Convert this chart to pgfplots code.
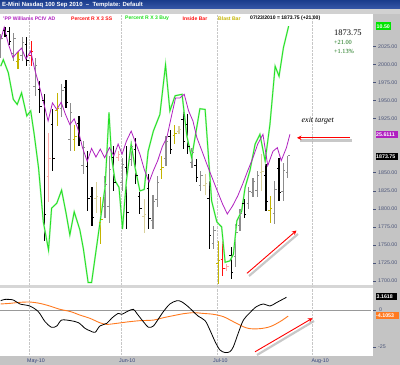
\documentclass[border=0pt]{standalone}
\usepackage{pgfplots}
\pgfplotsset{compat=1.18}
\usepackage{pgfplotstable}
\usepackage{fontspec}
\setmainfont{Liberation Sans}
\newfontfamily\serifface{Liberation Serif}
\usetikzlibrary{arrows.meta}
\definecolor{barblack}{HTML}{000000}
\definecolor{bargray}{HTML}{8C8C8C}
\definecolor{barolive}{HTML}{C4B400}
\definecolor{barpale}{HTML}{D8D09A}
\definecolor{barred}{HTML}{FF1010}
\definecolor{barpink}{HTML}{FFA8A8}
\definecolor{magline}{HTML}{B020C0}
\definecolor{grnline}{HTML}{22E022}
\definecolor{orgline}{HTML}{FF7A20}
\definecolor{titleblue}{HTML}{1A3C8C}
\definecolor{titleblue2}{HTML}{3858A8}
\definecolor{stripgray}{HTML}{C4C4C4}
\definecolor{labelcol}{HTML}{4A5478}
\definecolor{dategray}{HTML}{34447C}
\definecolor{darkgreen}{HTML}{107010}

\pgfdeclareplotmark{ltick}{\pgfpathmoveto{\pgfqpoint{-\pgfplotmarksize}{0pt}}\pgfpathlineto{\pgfqpoint{0pt}{0pt}}\pgfusepathqstroke}
\pgfdeclareplotmark{rtick}{\pgfpathmoveto{\pgfqpoint{0pt}{0pt}}\pgfpathlineto{\pgfqpoint{\pgfplotmarksize}{0pt}}\pgfusepathqstroke}

\pgfplotsset{
  obar/.style={color=#1, only marks, mark=ltick, mark size=2bp, mark options={line width=0.9bp},
    error bars/.cd, y dir=both, y explicit, error mark=none, error bar style={line width=1.2bp, color=#1}},
  cbar/.style={color=#1, only marks, mark=rtick, mark size=2bp, mark options={line width=0.9bp}},
}

% i high low open close
\pgfplotstableread{
i hi lo o c
1 2052 2038 2048 2041
2 2052 2028 2046 2033
6 2038 1998 2028 2006
9 1977 1933.5 1966 1942
10 1959 1756 1950 1793
12 1938 1853 1917 1870
15 1979 1940 1969 1948
18 1929 1887 1918 1895
20 1880 1797 1859 1814
21 1830 1777 1817 1788
26 1887 1825 1871 1837
29 1887 1772 1858 1795
31 1899 1834 1883 1847
32 1827 1793 1818 1800
34 1848 1772 1829 1787
39 1910 1876 1901 1883
42 1938 1883 1924 1894
43 1931 1876 1917 1887
45 1869 1837 1861 1843
48 1839 1744 1815 1763
53 1747 1703 1736 1712
56 1813.5 1788 1807 1793
61 1862 1797 1846 1810
64 1871 1811 1856 1823
}\blackbars
\pgfplotstableread{
i hi lo o c
0 2042 2010 2018 2036
3 2044 2005 2015 2036
5 2038 2005 2013 2031
8 2010 1957 1970 1999
14 1973 1927 1939 1964
16 1947 1880 1897 1934
19 1894 1848 1860 1885
24 1846 1788 1803 1834
25 1873.5 1781 1804 1855
28 1871 1825 1837 1862
30 1894 1860 1869 1887
35 1820 1772 1784 1810
36 1846 1802 1813 1837
38 1901 1860 1870 1893
44 1885 1857 1864 1879
46 1853 1825 1832 1847
49 1777 1744 1752 1770
54 1779 1719 1734 1767
55 1800 1770 1777 1794
57 1830 1800 1807 1824
58 1843.5 1816 1823 1838
59 1853 1816 1825 1846
63 1839 1779 1794 1827
65 1864 1811 1824 1853
66 1873.5 1843.5 1851 1873.75
}\graybars
\pgfplotstableread{
i hi lo o c
4 2018 1993.5 2005 2007
13 1961 1915 1937 1940
17 1917 1880 1897 1900
23 1816 1751 1781 1785
37 1873.5 1841 1855 1858
40 1917 1890 1902 1905
50 1756 1696 1724 1728
62 1818 1781 1798 1801
}\olivebars
\pgfplotstableread{
i hi lo o c
22 1837 1795 1815 1818
33 1813.5 1767 1789 1792
41 1915 1903.5 1908 1910
47 1848 1820 1833 1836
60 1876 1825 1850 1852
}\palebars
\pgfplotstableread{
i hi lo o c
7 2033 1998 2013 2018
51 1756 1707 1730 1718
}\redbars
\pgfplotstableread{
i hi lo o c
11 1906 1809 1845 1870
27 1880 1867 1872 1875
52 1723.5 1714 1718 1720
}\pinkbars

\pgfplotstableread{
i v
0 2035
0.8 2052
1.8 2028
2.8 2010
3.8 2017
4.8 2023
5.8 2008
6.9 2019
7.8 1994
8.9 1970
9.8 1949
10.9 1922
11.9 1947
12.9 1938
13.9 1948
14.9 1931
15.9 1917
16.9 1925
17.8 1910
18.8 1885
19.9 1866
20.9 1884
21.9 1872
22.9 1883
23.9 1871
25.0 1885
26.0 1873.5
27.0 1890
27.9 1876
28.9 1894
30.0 1908
31.0 1892
32.0 1876
33.0 1855
34.1 1837
35.1 1853
36.1 1867
37.2 1887
38.2 1899
39.2 1927
40.2 1954
41.2 1954
42.2 1959
43.2 1936
44.2 1922
45.1 1899
46.3 1880
47.4 1862
48.6 1843.5
49.8 1825
51.0 1807
52.1 1793
53.3 1804
54.5 1818
55.6 1834
56.8 1853
58.0 1871
59.1 1890
60.3 1903.5
61.4 1860
62.6 1880
63.6 1885
64.5 1867
65.7 1885
66.5 1903.5
}\magtab

\pgfplotstableread{
i v
0 1998
0.6 2007
1.75 1989
2.9 1952
3.8 1945
4.8 1961
6 1929
6.9 1936
7.7 1903.5
8.7 1857
9.8 1782
11 1743
11.7 1801
12.9 1808
14 1826
15 1795
15.9 1764
16.9 1796
18.2 1771
19 1745
20.1 1698
20.9 1698
22.1 1750
22.8 1780
24 1830
24.9 1934
25.5 1871
26.3 1839
27.2 1830
28 1772
28.9 1839
30 1890
30.9 1857
32 1825
33 1827
33.9 1880
35.1 1908
36.6 1931
37.9 2000
38.9 1936
40.1 1957
41.7 1959
42.8 1901
43.9 1871
45.8 1939
47 1938
48.5 1811
49.7 1782
50.8 1775
51.6 1726
52.7 1728
53.5 1737
54.3 1783.5
55.4 1797
56.2 1830
57.3 1853
58.5 1890
59.6 1903.5
60.8 1866.5
61.9 1917
63.1 1998
64 1984
65 2023.5
66.2 2053.5
}\grntab

\pgfplotstableread{
i v
0 6.3
1.0 7.2
2.9 6.8
4.4 4.1
6.7 2.7
8.65 -1.1
10.2 -7.9
11.7 -11.7
12.9 -10.8
14.0 -6.8
16.1 -7.2
17.9 -8.6
19.4 -12.4
20.5 -14.0
21.7 -15.1
22.8 -10.8
24.4 -9.0
25.5 -5.6
27.0 -2.3
27.8 -2.9
29.3 -0.7
30.5 0.5
31.3 -2.3
32.8 -7.9
34.0 -11.7
35.1 -10.8
36.2 -6.3
37.4 -1.1
38.9 4.1
40.5 6.3
41.6 5.6
43.1 2.3
44.3 -1.1
45.4 -4.1
47.0 -7.2
48.1 -13.5
49.3 -21.4
50.4 -27.0
51.6 -28.8
52.7 -28.2
53.5 -24.8
54.6 -15.8
55.8 -6.8
57.3 -1.8
58.8 2.3
60.4 4.1
61.9 2.7
63.4 5.0
65.7 8.6
}\osctab

\pgfplotstableread{
i v
0 4.1
2.1 4.5
4.4 5.2
6.7 5.4
9.0 4.5
11.3 2.7
13.6 0.5
16.1 -1.1
18.2 -3.4
20.5 -5.6
22.8 -8.6
24.4 -9.7
26.7 -9.0
29.0 -8.1
32.0 -7.2
35.1 -6.8
37.4 -5.2
39.7 -3.8
42.0 -2.5
44.3 -1.8
46.6 -2.3
48.9 -2.9
51.2 -4.5
53.5 -7.9
55.8 -11.3
57.3 -12.6
59.6 -12.6
61.9 -11.3
64.2 -7.9
66.1 -4.1
}\sigtab

\begin{document}
\begin{tikzpicture}
\useasboundingbox (0,0) rectangle (400bp,365bp);
\clip (0,0) rectangle (400bp,365bp);
\fill[white] (0,0) rectangle (400bp,365bp);

% backgrounds in pixel coordinates (y down)
\begin{scope}[x=1bp,y=-1bp,yshift=365bp]
  \shade[top color=titleblue, bottom color=titleblue2] (0,0) rectangle (400,9);
  \fill[black!18] (0,9) rectangle (400,14);
  \fill[stripgray] (373,14) rectangle (400,365);
  \fill[stripgray] (0,356) rectangle (400,365);
  \fill[black!16] (0,285.5) rectangle (373,288.5);
  \draw[black!40, line width=0.6] (0,310) -- (371,310);
\end{scope}

% main price panel
\begin{axis}[at={(0,79bp)}, anchor=south west, scale only axis,
  width=373bp, height=271.5bp,
  xmin=-0.161, xmax=85.6, ymin=1693.1, ymax=2069.7,
  axis line style={draw=none}, tick style={draw=none},
  xtick={6.5,27.7,49.7,71.6}, xticklabels={}, ytick=\empty,
  xmajorgrids, major grid style={densely dotted, black!22}]
\addplot[obar=bargray] table[x=i, y=o, y error plus expr=\thisrow{hi}-\thisrow{o}, y error minus expr=\thisrow{o}-\thisrow{lo}] {\graybars};
\addplot[cbar=bargray] table[x=i, y=c] {\graybars};
\addplot[obar=barpale] table[x=i, y=o, y error plus expr=\thisrow{hi}-\thisrow{o}, y error minus expr=\thisrow{o}-\thisrow{lo}] {\palebars};
\addplot[cbar=barpale] table[x=i, y=c] {\palebars};
\addplot[obar=barolive] table[x=i, y=o, y error plus expr=\thisrow{hi}-\thisrow{o}, y error minus expr=\thisrow{o}-\thisrow{lo}] {\olivebars};
\addplot[cbar=barolive] table[x=i, y=c] {\olivebars};
\addplot[obar=barpink] table[x=i, y=o, y error plus expr=\thisrow{hi}-\thisrow{o}, y error minus expr=\thisrow{o}-\thisrow{lo}] {\pinkbars};
\addplot[cbar=barpink] table[x=i, y=c] {\pinkbars};
\addplot[obar=barred] table[x=i, y=o, y error plus expr=\thisrow{hi}-\thisrow{o}, y error minus expr=\thisrow{o}-\thisrow{lo}] {\redbars};
\addplot[cbar=barred] table[x=i, y=c] {\redbars};
\addplot[obar=barblack] table[x=i, y=o, y error plus expr=\thisrow{hi}-\thisrow{o}, y error minus expr=\thisrow{o}-\thisrow{lo}] {\blackbars};
\addplot[cbar=barblack] table[x=i, y=c] {\blackbars};
\addplot[grnline!40, line width=1.6bp, no marks] table[x=i, y=v] {\grntab};
\addplot[grnline, line width=0.8bp, no marks] table[x=i, y=v] {\grntab};
\addplot[magline, line width=0.8bp, no marks] table[x=i, y=v] {\magtab};
\end{axis}

% oscillator panel
\begin{axis}[at={(0,9bp)}, anchor=south west, scale only axis,
  width=373bp, height=68bp,
  xmin=-0.161, xmax=85.6, ymin=-31.1, ymax=14.9,
  axis line style={draw=none}, tick style={draw=none},
  xtick={6.5,27.7,49.7,71.6}, xticklabels={}, ytick=\empty,
  xmajorgrids, major grid style={densely dotted, black!22}]
\addplot[orgline, line width=0.9bp, no marks, smooth] table[x=i, y=v] {\sigtab};
\addplot[black, line width=0.8bp, no marks, smooth] table[x=i, y=v] {\osctab};
\end{axis}

% labels and annotations in pixel coordinates (y down)
\begin{scope}[x=1bp,y=-1bp,yshift=365bp]
  \node[anchor=west, white, inner sep=0, font=\bfseries\fontsize{6}{7}\selectfont] at (2,4.6) {E-Mini Nasdaq 100 Sep 2010\ \ --\ \ Template: Default};
  \begin{scope}[every node/.style={anchor=west, inner sep=0, font=\bfseries\fontsize{5.1}{6}\selectfont}]
    \node[text=magline] at (3,18.5) {'PP Williams PCIV AD};
    \node[text=barred] at (71,18.5) {Percent R X 3 SS};
    \node[text=grnline] at (125,18.5) {Percent R X 3 Buy};
    \node[text=barred] at (182.5,18.5) {Inside Bar};
    \node[text=barolive] at (218,18.5) {Blast Bar};
    \node[text=black] at (250,18.5) {07/23/2010 = 1873.75 (+21.00)};
  \end{scope}
  % price labels
  \begin{scope}[every node/.style={anchor=west, inner sep=0, text=labelcol, font=\fontsize{5.3}{6}\selectfont}]
    \foreach \p/\t in {2025/2025.00,2000/2000.00,1975/1975.00,1950/1950.00,1925/1925.00,1850/1850.00,1825/1825.00,1800/1800.00,1775/1775.00,1750/1750.00,1725/1725.00,1700/1700.00}{
      \pgfmathsetmacro\yy{281-(\p-1700)*0.7222}
      \node at (378,\yy) {\t};
      \draw[labelcol, line width=0.4] (373,\yy) -- (376,\yy);
    }
    \node at (379,309.5) {0};
    \node at (378,347) {-25};
    \draw[labelcol, line width=0.4] (373,310) -- (376,310);
    \draw[labelcol, line width=0.4] (373,347) -- (376,347);
  \end{scope}
  % value boxes
  \fill[green!90!black] (375.5,22.5) rectangle (391,30.5);
  \node[anchor=west, inner sep=0, white, font=\bfseries\fontsize{5.3}{6}\selectfont] at (376.5,26.5) {10.50};
  \fill[magline] (375.5,131) rectangle (398,138);
  \node[anchor=west, inner sep=0, white, font=\bfseries\fontsize{5.3}{6}\selectfont] at (376,134.5) {25.6111};
  \fill[black] (375.5,153) rectangle (398,160);
  \node[anchor=west, inner sep=0, white, font=\bfseries\fontsize{5.3}{6}\selectfont] at (376,156.5) {1873.75};
  \fill[black] (375.5,293) rectangle (397,300);
  \node[anchor=west, inner sep=0, white, font=\bfseries\fontsize{5.3}{6}\selectfont] at (376.5,296.5) {3.1618};
  \fill[orgline] (375.5,312.5) rectangle (398.5,319);
  \node[anchor=west, inner sep=0, white, font=\bfseries\fontsize{5.3}{6}\selectfont] at (376,315.8) {-4.1053};
  % date labels
  \begin{scope}[every node/.style={anchor=west, inner sep=0, text=dategray, font=\fontsize{5.3}{6}\selectfont}]
    \node at (27,361) {May-10};
    \node at (119,361) {Jun-10};
    \node at (213,361) {Jul-10};
    \node at (311.5,361) {Aug-10};
  \end{scope}
  % top right quote
  \node[anchor=west, inner sep=0, font=\serifface\fontsize{8.5}{9}\selectfont] at (334,32.5) {1873.75};
  \node[anchor=west, inner sep=0, text=darkgreen, font=\serifface\fontsize{6.3}{7}\selectfont] at (334,42.5) {+21.00};
  \node[anchor=west, inner sep=0, text=darkgreen, font=\serifface\fontsize{6.3}{7}\selectfont] at (334,51.5) {+1.13\%};
  \node[anchor=west, inner sep=0, font=\serifface\itshape\fontsize{8}{9}\selectfont] at (301.5,120.5) {exit target};
  % arrows with shadows
  \draw[black!30, line width=2.2bp, opacity=0.7] (352,140.5) -- (300,140.5);
  \draw[red, line width=0.9bp, -{Stealth[length=4.5bp,width=4.5bp]}] (350,137.8) -- (297,137.8);
  \draw[black!30, line width=2.2bp, opacity=0.7] (249,276) -- (298,234);
  \draw[red, line width=0.9bp, -{Stealth[length=4.5bp,width=4.5bp]}] (247,273.3) -- (296.5,230.5);
  \draw[black!30, line width=2.2bp, opacity=0.7] (257,355) -- (314,321);
  \draw[red, line width=0.9bp, -{Stealth[length=4.5bp,width=4.5bp]}] (255,351.8) -- (312.5,318.2);
\end{scope}
\end{tikzpicture}
\end{document}
